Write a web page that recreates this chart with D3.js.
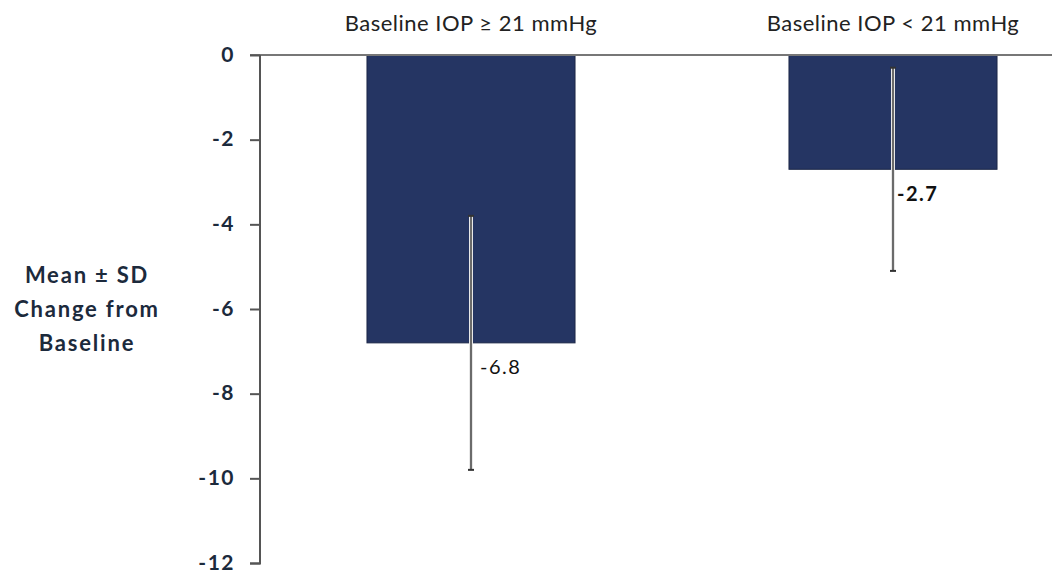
<!DOCTYPE html>
<html>
<head>
<meta charset="utf-8">
<script src="https://cdn.jsdelivr.net/npm/d3@7"></script>
<style>
  html, body { margin: 0; padding: 0; background: #fff; }
  svg { display: block; }
  text { font-family: Lato, "Open Sans", sans-serif; }
</style>
</head>
<body>
<svg id="chart" width="1052" height="573"></svg>
<script>
const categories = ["Baseline IOP \u2265 21 mmHg", "Baseline IOP < 21 mmHg"];
const means = [-6.8, -2.7];
const sds = [3.0, 2.4];
const valueLabels = ["-6.8", "-2.7"];
const yTicks = [0, -2, -4, -6, -8, -10, -12];
const yTitle = ["Mean \u00b1 SD", "Change from", "Baseline"];

const svg = d3.select("#chart");
const x = d3.scaleBand().domain(categories).range([260, 1104])
  .paddingInner(0.507).paddingOuter(0.2535);
const y = d3.scaleLinear().domain([0, -12]).range([55, 563]);

const textColor = "#1c2a3c";

// bars
svg.selectAll("rect.bar").data(categories).join("rect")
  .attr("class", "bar")
  .attr("x", d => x(d))
  .attr("width", x.bandwidth())
  .attr("y", y(0))
  .attr("height", (d, i) => y(means[i]) - y(0))
  .attr("fill", "#253563")
  .attr("stroke", "#1c2747")
  .attr("stroke-width", 1);

// zero line
svg.append("line")
  .attr("x1", 250).attr("x2", 1052)
  .attr("y1", y(0)).attr("y2", y(0))
  .attr("stroke", "#777").attr("stroke-width", 2);

// y axis
const yAxis = d3.axisLeft(y).tickValues(yTicks).tickSize(10).tickPadding(15)
  .tickFormat(d => String(d));
const gy = svg.append("g").attr("transform", "translate(260,0)").call(yAxis);
gy.select(".domain").attr("stroke", "#555").attr("stroke-width", 2).attr("d", "M-10,563.5H0V55");
gy.selectAll(".tick line").attr("stroke", "#555").attr("stroke-width", 2);
gy.selectAll(".tick text")
  .attr("fill", textColor)
  .attr("dy", "0.3em")
  .style("font-size", "21px")
  .style("font-weight", "bold")
  .style("letter-spacing", "1.5px");

// error bars
const eb = svg.selectAll("g.err").data(categories).join("g").attr("class", "err");
eb.append("line")
  .attr("x1", d => x(d) + x.bandwidth() / 2)
  .attr("x2", d => x(d) + x.bandwidth() / 2)
  .attr("y1", (d, i) => y(means[i] + sds[i]))
  .attr("y2", (d, i) => y(means[i] - sds[i]))
  .attr("stroke", "#e8e8e8").attr("stroke-width", 4);
eb.append("line")
  .attr("x1", d => x(d) + x.bandwidth() / 2)
  .attr("x2", d => x(d) + x.bandwidth() / 2)
  .attr("y1", (d, i) => y(means[i] + sds[i]))
  .attr("y2", (d, i) => y(means[i] - sds[i]))
  .attr("stroke", "#6b6b6b").attr("stroke-width", 2);
[0, 1].forEach(k => {
  eb.append("line")
    .attr("x1", d => x(d) + x.bandwidth() / 2 - 3)
    .attr("x2", d => x(d) + x.bandwidth() / 2 + 3)
    .attr("y1", (d, i) => y(means[i] + (k ? -sds[i] : sds[i])))
    .attr("y2", (d, i) => y(means[i] + (k ? -sds[i] : sds[i])))
    .attr("stroke", "#333").attr("stroke-width", 2);
});

// value labels
svg.selectAll("text.val").data(categories).join("text")
  .attr("class", "val")
  .attr("x", d => x(d) + x.bandwidth() / 2 + (d === categories[0] ? 9 : 4))
  .attr("y", (d, i) => y(means[i]) + (d === categories[0] ? 31 : 32))
  .attr("fill", "#111")
  .style("font-size", "20px")
  .style("letter-spacing", "1.5px")
  .style("font-weight", (d, i) => i === 1 ? "bold" : "normal")
  .text((d, i) => valueLabels[i]);

// category labels
svg.selectAll("text.cat").data(categories).join("text")
  .attr("class", "cat")
  .attr("x", d => x(d) + x.bandwidth() / 2)
  .attr("y", 31)
  .attr("text-anchor", "middle")
  .attr("fill", "#222")
  .style("font-size", "22px")
  .style("letter-spacing", "0.5px")
  .text(d => d);

// y title
svg.append("text")
  .attr("text-anchor", "middle")
  .attr("fill", textColor)
  .style("font-size", "22px")
  .style("font-weight", "bold")
  .style("letter-spacing", "1.8px")
  .selectAll("tspan").data(yTitle).join("tspan")
  .attr("x", 87)
  .attr("y", (d, i) => 283 + i * 34)
  .text(d => d);
</script>
</body>
</html>
